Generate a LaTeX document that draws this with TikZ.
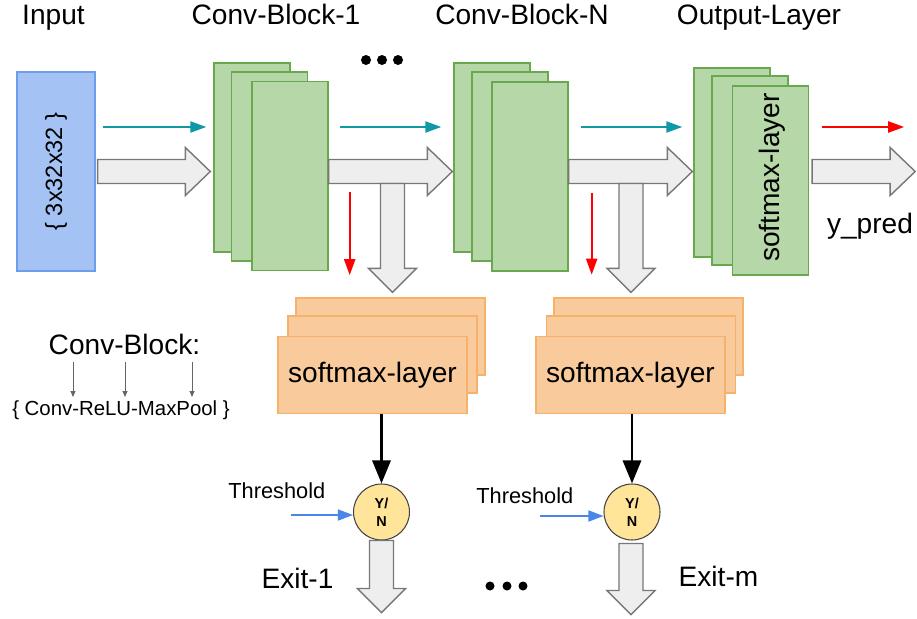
\documentclass[tikz,border=0pt]{standalone}
\usepackage{fontspec}
\setmainfont{Liberation Sans}
\usetikzlibrary{arrows.meta,calc}

\definecolor{inblue}{HTML}{A4C2F4}
\definecolor{inline}{HTML}{6D9EEB}
\definecolor{convfill}{HTML}{B6D7A8}
\definecolor{convline}{HTML}{6AA84F}
\definecolor{smfill}{HTML}{F9CB9C}
\definecolor{smline}{HTML}{F6B26B}
\definecolor{arrfill}{HTML}{EEEEEE}
\definecolor{arrline}{HTML}{777777}
\definecolor{flowteal}{HTML}{1098A6}
\definecolor{ynfill}{HTML}{FFE599}
\definecolor{ynline}{HTML}{434343}
\definecolor{thrblue}{HTML}{4A86E8}

\tikzset{
    lbl/.style = {font=\fontsize{16}{19}\selectfont, anchor=base, inner sep=0pt},
    small/.style = {font=\fontsize{12.4}{15}\selectfont, anchor=base west, inner sep=0pt},
    inbox/.style = {draw=inline, fill=inblue, line width=0.8pt, minimum width=1.56cm, minimum height=3.98cm, inner sep=0pt},
    convbox/.style = {draw=convline, fill=convfill, line width=0.8pt, minimum width=1.52cm, minimum height=3.78cm, inner sep=0pt},
    smbox/.style = {draw=smline, fill=smfill, line width=0.8pt, minimum width=3.78cm, minimum height=1.54cm, inner sep=0pt},
    ynode/.style = {circle, draw=ynline, fill=ynfill, line width=0.6pt, minimum size=1.12cm, inner sep=0pt, align=center, font=\fontsize{8.2}{10.5}\selectfont\bfseries},
    bigarrow/.style = {draw=arrline, fill=arrfill, line width=0.8pt, line join=miter},
    flowarr/.style = {line width=1.2pt, -{Triangle[length=0.32cm, width=0.22cm]}},
    exitarr/.style = {line width=1.7pt, -{Triangle[length=0.46cm, width=0.36cm]}},
    thrarr/.style = {thrblue, line width=0.9pt, -{Triangle[length=0.3cm, width=0.22cm]}},
    legarr/.style = {black!60, line width=0.5pt, -{Triangle[length=0.12cm, width=0.1cm]}},
}

% fat block arrows (start, tip)
\newcommand{\fatright}[2]{%
    \draw[bigarrow] ($(#1)+(0,-12)$) -- ($(#2)+(-25,-12)$) -- ($(#2)+(-25,-24)$) -- (#2)
        -- ($(#2)+(-25,24)$) -- ($(#2)+(-25,12)$) -- ($(#1)+(0,12)$) -- cycle;}
\newcommand{\fatdown}[2]{%
    \draw[bigarrow] ($(#1)+(-12,0)$) -- ($(#2)+(-12,-24)$) -- ($(#2)+(-24,-24)$) -- (#2)
        -- ($(#2)+(24,-24)$) -- ($(#2)+(12,-24)$) -- ($(#1)+(12,0)$) -- cycle;}

\begin{document}
\begin{tikzpicture}[x=0.02cm, y=-0.02cm]
    \useasboundingbox (0,0) rectangle (917,619);

    % titles
    \node[lbl] (tin) at (53.5,24) {Input};
    \node[lbl] (tc1) at (276,24) {Conv-Block-1};
    \node[lbl] (tcn) at (522,24) {Conv-Block-N};
    \node[lbl] (tout) at (759,24) {Output-Layer};

    % input
    \node[inbox] (inp) at (56,171.5) {};
    \node[rotate=90, font=\fontsize{13.4}{16}\selectfont] at (inp.center) {\{ 3x32x32 \}};

    % conv blocks
    \node[convbox] (c1a) at (252,157.5) {};
    \node[convbox] (c1b) at (269.5,166.5) {};
    \node[convbox] (c1c) at (290,176) {};
    \node[convbox] (cNa) at (492,157.5) {};
    \node[convbox] (cNb) at (510,166.5) {};
    \node[convbox] (cNc) at (530,176.5) {};
    \node[convbox] (oa) at (732,162.5) {};
    \node[convbox] (ob) at (750,170.5) {};
    \node[convbox] (oc) at (770.5,180.5) {};
    \node[rotate=90, font=\fontsize{16}{19}\selectfont] at ($(oc.center)+(2,-3)$) {softmax-layer};

    \fill (366,60) circle[radius=0.1cm] (382,60) circle[radius=0.1cm] (398,60) circle[radius=0.1cm];

    % main flow
    \coordinate (top) at (0,127);
    \draw[flowarr, flowteal] ($(inp.east |- top)+(7,0)$) -- ($(c1a.west |- top)+(-7,0)$);
    \draw[flowarr, flowteal] ($(c1c.east |- top)+(11,0)$) -- ($(cNa.west |- top)+(-12,0)$);
    \draw[flowarr, flowteal] ($(cNc.east |- top)+(12,0)$) -- ($(oa.west |- top)+(-11,0)$);
    \draw[flowarr, red] ($(oc.east |- top)+(13,0)$) -- ($(oc.east |- top)+(95,0)$);

    \coordinate (t1) at ($(c1a.west |- inp.east)+(-3,0)$);
    \coordinate (t2) at ($(cNa.west |- inp.east)+(-1,0)$);
    \coordinate (t3) at ($(oa.west |- inp.east)+(-1,0)$);
    \coordinate (t4) at ($(oc.east |- inp.east)+(106,0)$);
    \fatright{$(inp.east)+(2,0)$}{t1}
    \fatright{c1c.east |- inp.east}{t2}
    \fatright{cNc.east |- inp.east}{t3}
    \fatright{$(oc.east |- inp.east)+(3,0)$}{t4}

    \node[lbl] (ypred) at (870,233) {y\_pred};

    % early exits
    \node[smbox] (s1a) at (390.5,336.5) {};
    \node[smbox] (s1b) at (382.5,354.5) {};
    \node[smbox, font=\fontsize{16}{19}\selectfont] (s1c) at (372.5,375) {softmax-layer};
    \node[smbox] (s2a) at (648.5,336.5) {};
    \node[smbox] (s2b) at (641,354.5) {};
    \node[smbox, font=\fontsize{16}{19}\selectfont] (s2c) at (630.5,375) {softmax-layer};

    \draw[flowarr, red] ($(c1c.east)+(21,16)$) -- ($(c1c.south east)+(21,4)$);
    \draw[flowarr, red] ($(cNc.east)+(23,16)$) -- ($(cNc.south east)+(23,3)$);
    \fatdown{$(s1a.north |- inp.east)+(2,12)$}{$(s1a.north)+(2,-5)$}
    \fatdown{$(s2a.north |- inp.east)+(-17.5,12)$}{$(s2a.north)+(-17.5,-5)$}

    \node[ynode] (yn1) at (381.5,512) {Y/\\N};
    \node[ynode] (yn2) at (632,512) {Y/\\N};
    \draw[exitarr] (yn1.north |- s1c.south) -- (yn1.north);
    \draw[exitarr] (yn2.north |- s2c.south) -- (yn2.north);

    \node[small] (thr1) at (228,498) {Threshold};
    \node[small] (thr2) at (476,503) {Threshold};
    \draw[thrarr] ($(yn1.west)+(-62,3)$) -- ($(yn1.west)+(0,3)$);
    \draw[thrarr] ($(yn2.west)+(-63,4)$) -- ($(yn2.west)+(0,4)$);

    \fatdown{yn1.south}{$(yn1.south)+(0,72)$}
    \fatdown{$(yn2.south)+(-1,3)$}{$(yn2.south)+(-1,74)$}
    \node[lbl] (ex1) at (297.5,588) {Exit-1};
    \node[lbl] (exm) at (718.5,586) {Exit-m};
    \fill (490,586) circle[radius=0.09cm] (507,586) circle[radius=0.09cm] (523,586) circle[radius=0.09cm];

    % legend
    \node[lbl] (cbk) at (124.5,354) {Conv-Block:};
    \node[lbl, font=\fontsize{11.6}{14}\selectfont] (cbp) at (121,415) {\{ Conv-ReLU-MaxPool \}};
    \foreach \x in {73,125,192}
        \draw[legarr] ($(cbk.base -| \x,0)+(0,8)$) -- ($(cbp.base -| \x,0)+(0,-18)$);
\end{tikzpicture}
\end{document}
